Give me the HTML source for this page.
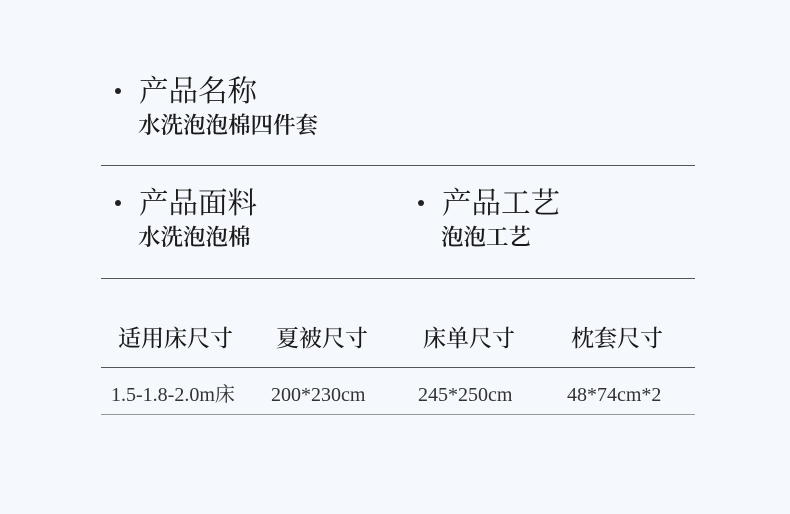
<!DOCTYPE html><html><head><meta charset="utf-8"><style>
body{margin:0;width:790px;height:514px;background:#f5f9fd;position:relative;overflow:hidden;font-family:"Liberation Serif","Noto Serif CJK SC",serif;color:#1a1a1a}
.a{position:absolute;white-space:nowrap;line-height:1}
.t{font-size:29.5px}
.s{font-size:22.5px;font-weight:600}
.h{font-size:23px;font-weight:500}
.d{font-size:20px;color:#333}
.dot{position:absolute;width:6px;height:6px;border-radius:50%;background:#222}
.l{position:absolute;left:101px;width:594px;height:1px;background:#555}
</style></head><body>
<div class="dot" style="left:115px;top:88px"></div>
<div class="a t" style="left:139px;top:78px">产品名称</div>
<div class="a s" style="left:138px;top:115px">水洗泡泡棉四件套</div>
<div class="l" style="top:165px"></div>
<div class="dot" style="left:115px;top:200px"></div>
<div class="a t" style="left:139px;top:190px">产品面料</div>
<div class="a s" style="left:138px;top:227px">水洗泡泡棉</div>
<div class="dot" style="left:418px;top:200px"></div>
<div class="a t" style="left:442px;top:190px">产品工艺</div>
<div class="a s" style="left:441px;top:227px">泡泡工艺</div>
<div class="l" style="top:278px"></div>
<div class="a h" style="left:118px;top:327px">适用床尺寸</div>
<div class="a h" style="left:276px;top:327px">夏被尺寸</div>
<div class="a h" style="left:423px;top:327px">床单尺寸</div>
<div class="a h" style="left:571px;top:327px">枕套尺寸</div>
<div class="l" style="top:367px"></div>
<div class="a d" style="left:111px;top:385px">1.5-1.8-2.0m床</div>
<div class="a d" style="left:271px;top:385px">200*230cm</div>
<div class="a d" style="left:418px;top:385px">245*250cm</div>
<div class="a d" style="left:567px;top:385px">48*74cm*2</div>
<div class="l" style="top:414px;background:#999"></div>
</body></html>
